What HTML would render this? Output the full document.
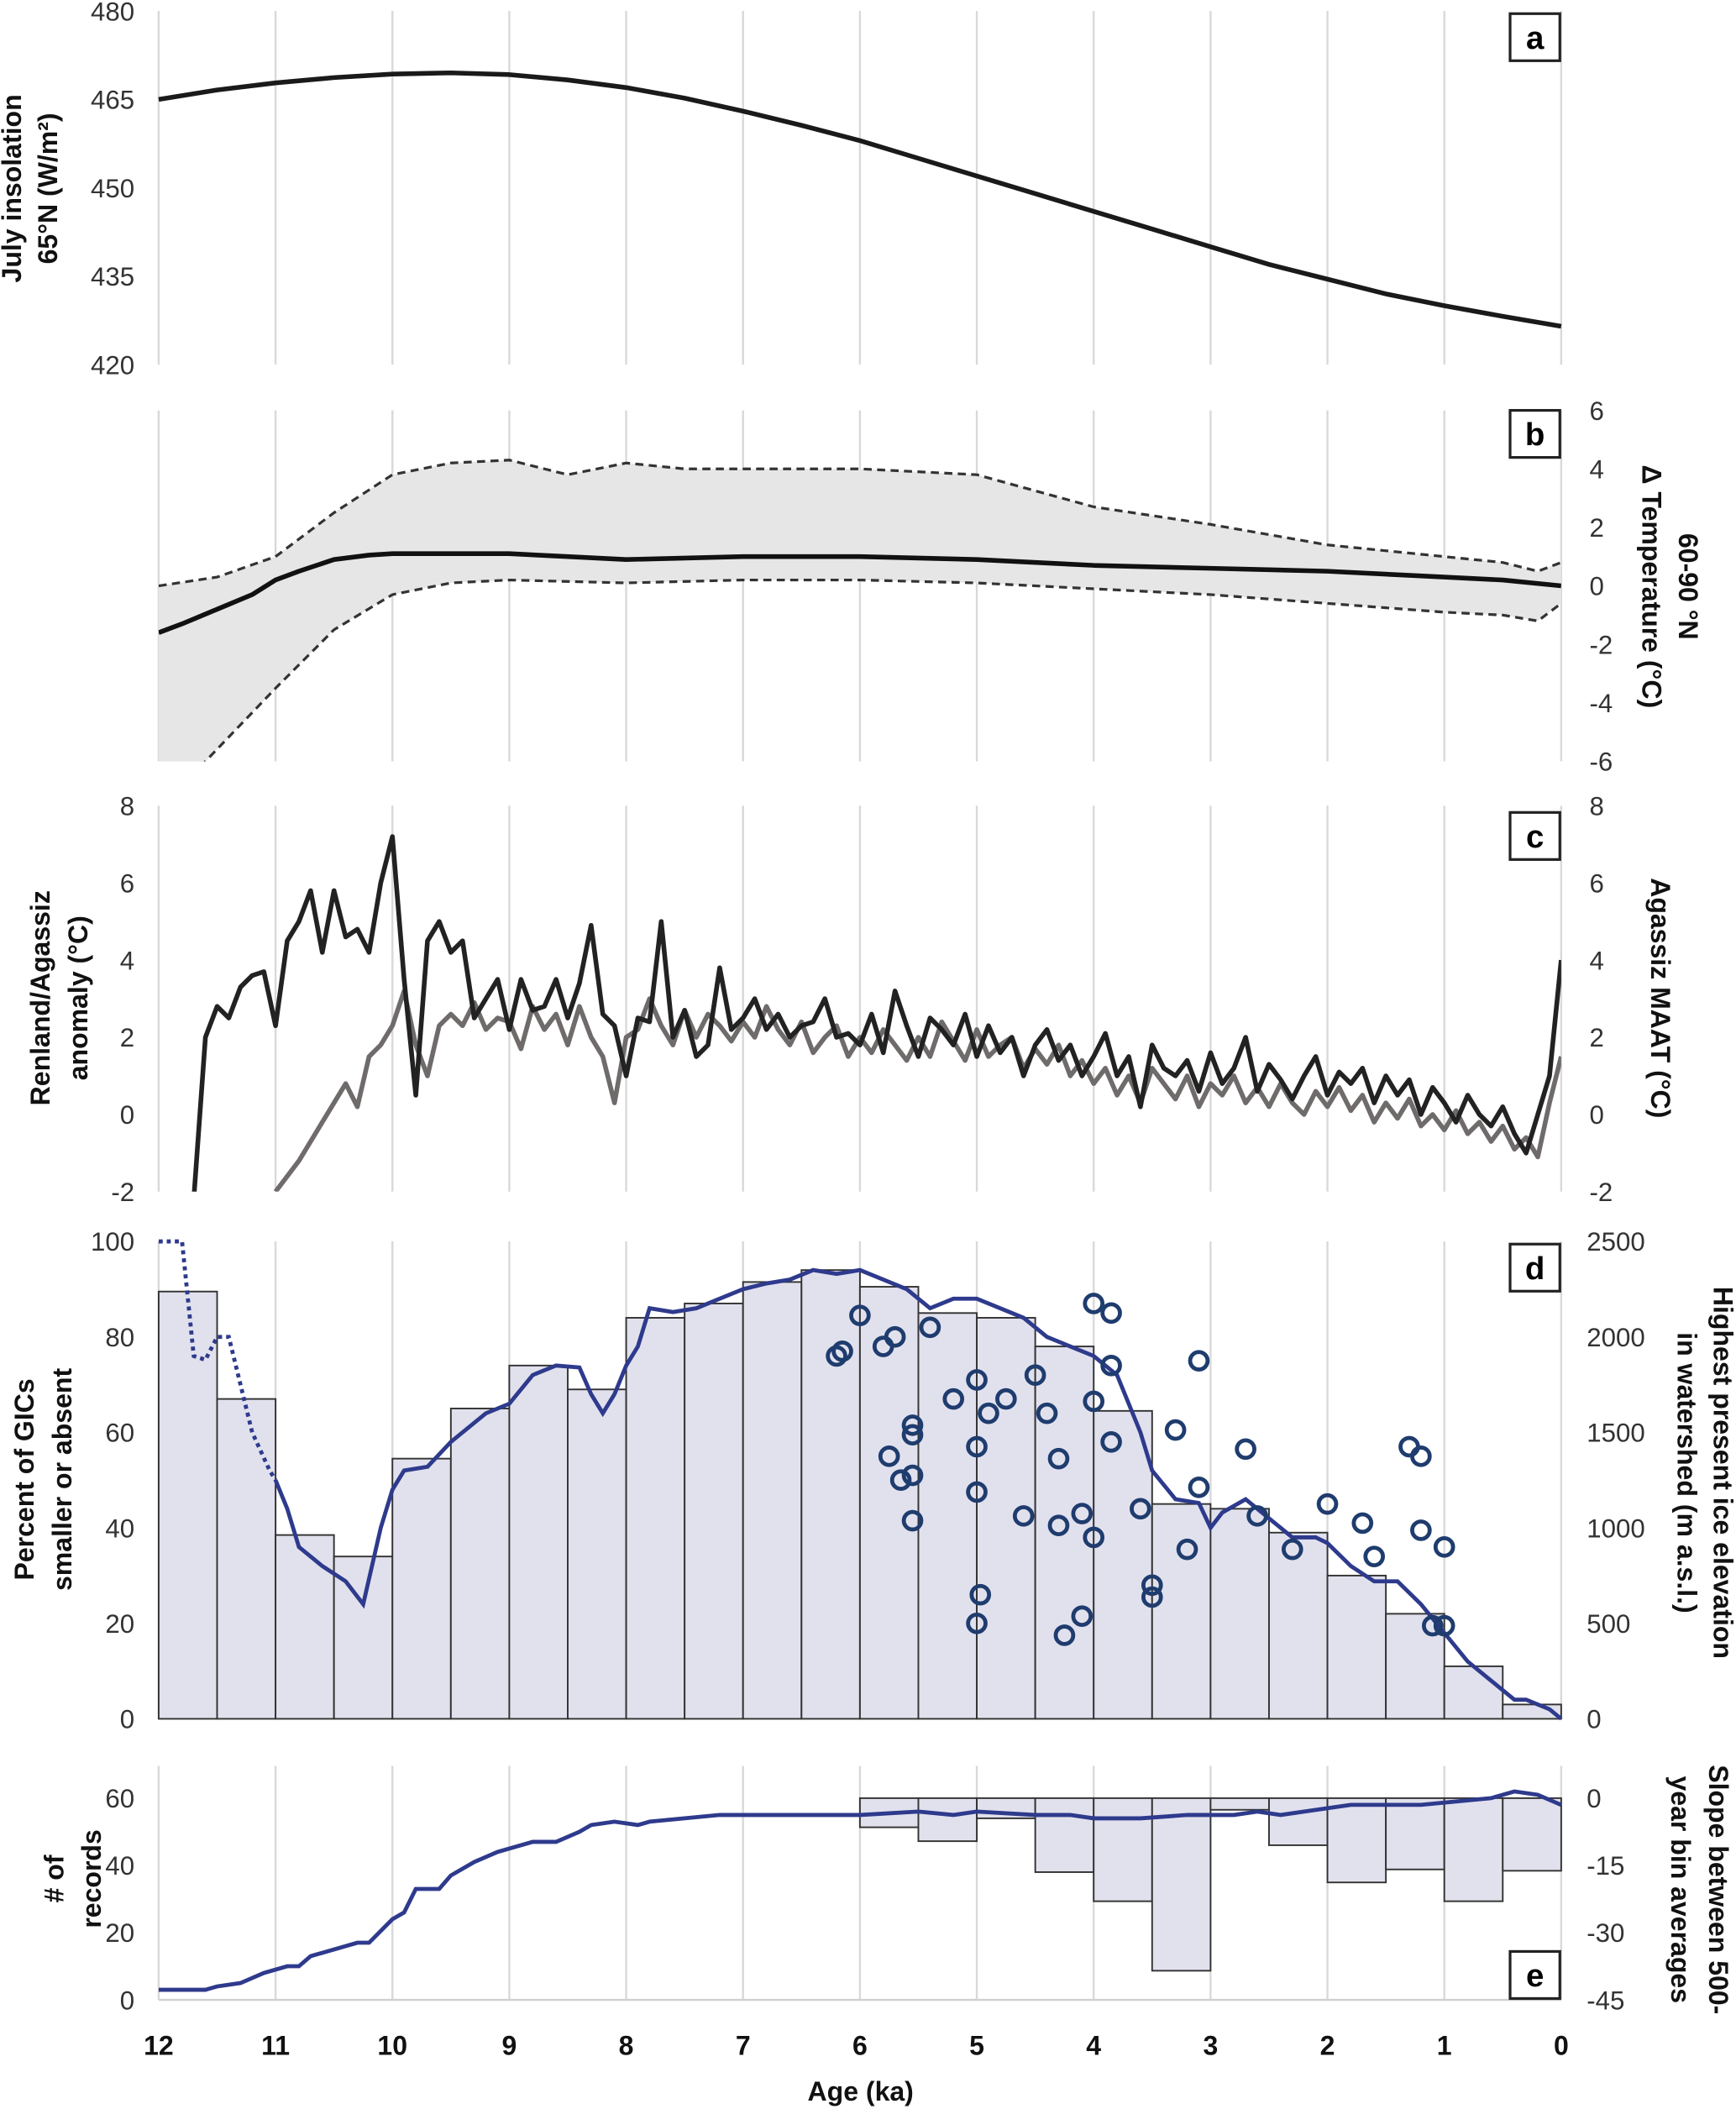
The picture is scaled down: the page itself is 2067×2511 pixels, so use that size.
<!DOCTYPE html>
<html><head><meta charset="utf-8"><style>
html,body{margin:0;padding:0;background:#fff}
svg{display:block}
text{font-family:"Liberation Sans",sans-serif}
.tk{font-size:19.5px;fill:#333}
.tt{font-size:20px;font-weight:bold;fill:#111}
</style></head><body>
<svg id="chart" width="2067" height="2511" viewBox="0 0 1291 1568" xmlns="http://www.w3.org/2000/svg">
<defs>
<clipPath id="clipB"><rect x="118" y="305" width="1043" height="261"/></clipPath>
<clipPath id="clipC"><rect x="118" y="599" width="1043" height="287"/></clipPath>
</defs>
<g id="root"></g>
</svg>
<script>
// ---------- DATA ----------
const insAges = [12,11.5,11,10.5,10,9.5,9,8.5,8,7.5,7,6.5,6,5.5,5,4.5,4,3.5,3,2.5,2,1.5,1,0.5,0];
const insVals = [465,466.6,467.8,468.7,469.3,469.5,469.2,468.3,467,465.2,463,460.6,458,455,452,449,446,443,440,437,434.5,432,430,428.2,426.5];

const tAges = [12,11.8,11.5,11.2,11,10.8,10.5,10.2,10,9.5,9,8.5,8,7,6,5,4,3,2,1,0.5,0];
const tMean = [-1.6,-1.3,-0.8,-0.3,0.2,0.5,0.9,1.05,1.1,1.1,1.1,1.0,0.9,1.0,1.0,0.9,0.7,0.6,0.5,0.3,0.2,0.0];
const upAges = [12,11.5,11,10.5,10,9.5,9,8.5,8,7.5,7,6,5,4,3,2,1,0.5,0.2,0];
const upVals = [0.0,0.3,1.0,2.5,3.8,4.2,4.3,3.8,4.2,4.0,4.0,4.0,3.8,2.7,2.1,1.4,1.0,0.8,0.5,0.8];
const loAges = [12,11.6,11,10.5,10,9.5,9,8,7,6,5,4,3,2,1,0.5,0.2,0];
const loVals = [-8,-6,-3.5,-1.5,-0.3,0.1,0.2,0.1,0.2,0.2,0.1,-0.1,-0.3,-0.6,-0.9,-1.0,-1.2,-0.6];

const blackStart = 11.7;
const blackVals = [-2.2,2.0,2.8,2.5,3.3,3.6,3.7,2.3,4.5,5.0,5.8,4.2,5.8,4.6,4.8,4.2,6.0,7.2,3.5,0.5,4.5,5.0,4.2,4.5,2.5,3.0,3.5,2.2,3.5,2.7,2.8,3.5,2.5,3.4,4.9,2.6,2.3,1.0,2.5,2.4,5.0,2.0,2.7,1.5,1.8,3.8,2.2,2.5,3.0,2.2,2.6,2.0,2.3,2.4,3.0,2.0,2.1,1.8,2.6,1.6,3.2,2.3,1.5,2.5,2.2,1.8,2.6,1.5,2.3,1.6,2.0,1.0,1.8,2.2,1.4,1.8,1.0,1.5,2.1,1.0,1.5,0.2,1.8,1.2,1.0,1.4,0.6,1.6,0.8,1.2,2.0,0.6,1.3,0.9,0.4,1.0,1.5,0.5,1.1,0.8,1.2,0.3,1.0,0.5,0.9,0.0,0.7,0.3,-0.2,0.5,0.0,-0.3,0.2,-0.5,-1.0,0.0,1.0,4.0];
const grayStart = 11.0;
const grayVals = [-2.0,-1.6,-1.2,-0.7,-0.2,0.3,0.8,0.2,1.5,1.8,2.3,3.2,1.8,1.0,2.3,2.6,2.3,2.9,2.2,2.5,2.4,1.7,2.8,2.2,2.6,1.8,2.8,2.0,1.5,0.3,2.0,2.2,3.0,2.3,1.8,2.7,2.0,2.6,2.3,1.9,2.4,2.0,2.8,2.2,1.8,2.4,1.6,2.0,2.3,1.5,2.0,1.6,2.2,1.8,1.4,2.0,1.5,2.4,1.9,1.4,2.2,1.5,1.8,2.0,1.2,1.7,1.3,1.8,1.0,1.4,0.8,1.2,0.5,1.0,0.3,1.2,0.8,0.4,1.0,0.2,0.8,0.5,1.0,0.3,0.7,0.2,0.8,0.3,0.0,0.6,0.2,0.7,0.1,0.5,-0.2,0.3,-0.1,0.4,-0.3,0.0,-0.4,0.1,-0.5,-0.2,-0.7,-0.3,-0.9,-0.6,-1.1,0.3,1.5];
const series10Step = 0.1;

const gicBins = [89.5,67,38.5,34,54.5,65,74,69,84,87,91.5,94,90.5,85,84,78,64.5,45,44,39,30,22,11,3];
const elevDotAges = [12,11.8,11.7,11.6,11.5,11.4,11.3,11.2,11.05,11.0];
const elevDotVals = [2500,2500,1900,1880,2000,2000,1750,1500,1300,1250];
const elevAges = [11.0,10.9,10.8,10.6,10.4,10.25,10.1,10.0,9.9,9.7,9.5,9.2,9.0,8.8,8.6,8.4,8.3,8.2,8.1,8.0,7.9,7.8,7.6,7.4,7.2,7.0,6.8,6.6,6.4,6.2,6.0,5.8,5.6,5.4,5.2,5.0,4.8,4.6,4.4,4.2,4.0,3.8,3.6,3.5,3.3,3.1,3.0,2.9,2.7,2.5,2.3,2.1,2.0,1.8,1.6,1.4,1.2,1.0,0.8,0.6,0.4,0.3,0.1,0];
const elevVals = [1250,1100,900,800,720,600,1000,1200,1300,1320,1450,1600,1650,1800,1850,1840,1700,1600,1700,1850,1950,2150,2130,2150,2200,2250,2280,2300,2350,2330,2350,2300,2250,2150,2200,2200,2150,2100,2000,1950,1900,1800,1500,1300,1150,1130,1000,1080,1150,1050,950,950,920,800,720,720,600,450,300,200,100,100,50,0];
const circAges = [6.2,6.15,6.0,5.8,5.7,5.55,5.55,5.55,5.65,5.55,5.75,5.4,5.2,5.0,4.9,5.0,5.0,4.97,5.0,4.75,4.6,4.5,4.4,4.3,4.3,4.1,4.1,4.25,4.0,3.85,3.85,4.0,4.0,3.85,3.6,3.5,3.5,3.3,3.2,3.1,3.1,2.7,2.6,2.3,2.0,1.7,1.6,1.3,1.2,1.2,1.0,1.1,1.0];
const circPct = [76,77,84.5,78,80,61.5,59.5,51,50,41.5,55,82,67,71,64,57,47.5,26,20,67,42.5,72,64,54.5,40.5,43,21.5,17.5,87,85,74,66.5,38,58,44,28,25.5,60.5,35.5,75,48.5,56.5,42.5,35.5,45,41,34,57,55,39.5,36,19.5,19.5];

const slopeBins = [-6.5,-9.6,-4.5,-16.5,-23,-38.5,-2.6,-10.5,-18.8,-15.9,-23,-16.2];
const recAges = [12,11.6,11.5,11.3,11.1,10.9,10.8,10.7,10.5,10.3,10.2,10.0,9.9,9.8,9.6,9.5,9.3,9.1,8.9,8.8,8.6,8.4,8.3,8.1,7.9,7.8,7.5,7.2,6.9,6.5,6.0,5.5,5.2,5.0,4.5,4.2,4.0,3.6,3.2,2.8,2.6,2.4,2.0,1.8,1.2,0.9,0.6,0.4,0.2,0];
const recVals = [3,3,4,5,8,10,10,13,15,17,17,24,26,33,33,37,41,44,46,47,47,50,52,53,52,53,54,55,55,55,55,56,55,56,55,55,54,54,55,55,56,55,57,58,58,59,60,62,61,58];

const xTicks = [12,11,10,9,8,7,6,5,4,3,2,1,0];
const insTicks = [420,435,450,465,480];
const tTicks = [-6,-4,-2,0,2,4,6];
const cTicks = [-2,0,2,4,6,8];
const pctTicks = [0,20,40,60,80,100];
const elevTicks = [0,500,1000,1500,2000,2500];
const recTicks = [0,20,40,60];
const slopeTicks = [0,-15,-30,-45];

// ---------- SCALES ----------
const X = a => 118 + (12 - a) * (1043 / 12);
const Ya = v => 271 - (v - 420) / 60 * 263;
const Yb = v => 435.5 - v * (261 / 12);
const Yc = v => 886 - (v + 2) * 28.7;
const Yd = p => 1278 - p * 3.55;
const Ydm = m => 1278 - m * 0.142;
const Ye = n => 1487 - n * 2.5;
const Yes = s => 1337 - s * (150 / 45);

const NS = "http://www.w3.org/2000/svg";
const root = document.getElementById('root');
function mk(tag, attrs, parent) {
  const e = document.createElementNS(NS, tag);
  for (const k in attrs) e.setAttribute(k, attrs[k]);
  (parent || root).appendChild(e);
  return e;
}
function pathFrom(ages, vals, ys) {
  return ages.map((a, i) => (i ? 'L' : 'M') + X(a).toFixed(2) + ',' + ys(vals[i]).toFixed(2)).join('');
}
function stepAges(start, n) { const r = []; for (let i = 0; i < n; i++) r.push(start - i * series10Step); return r; }

// gridlines
const panels = [[8, 271], [305, 566], [599, 886], [923, 1278], [1313, 1487]];
panels.forEach(p => {
  xTicks.forEach(t => {
    const g = mk('line', {x1: X(t), x2: X(t), y1: p[0], y2: p[1], stroke: '#d9d9d9', 'stroke-width': 1.5});
    
    
  });
});

// ---- Panel a ----
let e = mk('path', {d: pathFrom(insAges, insVals, Ya), fill: 'none', stroke: '#1a1a1a', 'stroke-width': 3.5, 'stroke-linejoin': 'round'});


insTicks.forEach(t => {
  const tx = mk('text', {x: 100, y: Ya(t) + 7, 'text-anchor': 'end', class: 'tk'}); tx.textContent = t;
  
  
});

// ---- Panel b ----
const gb = mk('g', {'clip-path': 'url(#clipB)'});
const loRev = loAges.slice().reverse(), loValsRev = loVals.slice().reverse();
let bandD = pathFrom(upAges, upVals, Yb) + loRev.map((a, i) => 'L' + X(a) + ',' + Yb(loValsRev[i])).join('') + 'Z';
e = mk('path', {d: bandD, fill: '#e6e6e6', stroke: 'none'}, gb);


e = mk('path', {d: pathFrom(upAges, upVals, Yb), fill: 'none', stroke: '#333', 'stroke-width': 2, 'stroke-dasharray': '6,4'}, gb);


e = mk('path', {d: pathFrom(loAges, loVals, Yb), fill: 'none', stroke: '#333', 'stroke-width': 2, 'stroke-dasharray': '6,4'}, gb);


e = mk('path', {d: pathFrom(tAges, tMean, Yb), fill: 'none', stroke: '#111', 'stroke-width': 3.5, 'stroke-linejoin': 'round'}, gb);


tTicks.forEach(t => {
  const tx = mk('text', {x: 1182, y: Yb(t) + 7, class: 'tk'}); tx.textContent = t;
  
  
});

// ---- Panel c ----
const gc = mk('g', {'clip-path': 'url(#clipC)'});
e = mk('path', {d: pathFrom(stepAges(grayStart, grayVals.length), grayVals, Yc), fill: 'none', stroke: '#6f6b6b', 'stroke-width': 3.5, 'stroke-linejoin': 'round'}, gc);


e = mk('path', {d: pathFrom(stepAges(blackStart, blackVals.length), blackVals, Yc), fill: 'none', stroke: '#222', 'stroke-width': 3.5, 'stroke-linejoin': 'round'}, gc);


cTicks.forEach(t => {
  let tx = mk('text', {x: 100, y: Yc(t) + 7, 'text-anchor': 'end', class: 'tk'}); tx.textContent = t;
  
  
  tx = mk('text', {x: 1182, y: Yc(t) + 7, class: 'tk'}); tx.textContent = t;
  
  
});

// ---- Panel d ----
gicBins.forEach((v, i) => {
  const a0 = 12 - i * 0.5, a1 = a0 - 0.5;
  const r = mk('rect', {x: X(a0), y: Yd(v), width: X(a1) - X(a0), height: Yd(0) - Yd(v), fill: '#e1e1ee', stroke: '#333', 'stroke-width': 1.2});
  
  
});
e = mk('path', {d: pathFrom(elevDotAges, elevDotVals, Ydm), fill: 'none', stroke: '#2e3a8c', 'stroke-width': 3, 'stroke-dasharray': '3,3'});


e = mk('path', {d: pathFrom(elevAges, elevVals, Ydm), fill: 'none', stroke: '#2e3a8c', 'stroke-width': 3});


circAges.forEach((a, i) => {
  const c = mk('circle', {cx: X(a), cy: Yd(circPct[i]), r: 6.5, fill: 'none', stroke: '#1f3c6e', 'stroke-width': 3});
  
  
});
pctTicks.forEach(t => {
  const tx = mk('text', {x: 100, y: Yd(t) + 7, 'text-anchor': 'end', class: 'tk'}); tx.textContent = t;
  
  
});
elevTicks.forEach(t => {
  const tx = mk('text', {x: 1180, y: Ydm(t) + 7, class: 'tk'}); tx.textContent = t;
  
  
});

// ---- Panel e ----
slopeBins.forEach((v, i) => {
  const a0 = 6 - i * 0.5, a1 = a0 - 0.5;
  const r = mk('rect', {x: X(a0), y: Yes(0), width: X(a1) - X(a0), height: Yes(v) - Yes(0), fill: '#e1e1ee', stroke: '#333', 'stroke-width': 1.2});
  
  
});
e = mk('line', {x1: 118, x2: 1161, y1: 1487, y2: 1487, stroke: '#d0d0d0', 'stroke-width': 1.5});


e = mk('path', {d: pathFrom(recAges, recVals, Ye), fill: 'none', stroke: '#2e3a8c', 'stroke-width': 3});


recTicks.forEach(t => {
  const tx = mk('text', {x: 100, y: Ye(t) + 7, 'text-anchor': 'end', class: 'tk'}); tx.textContent = t;
  
  
});
slopeTicks.forEach(t => {
  const tx = mk('text', {x: 1180, y: Yes(t) + 7, class: 'tk'}); tx.textContent = t;
  
  
});

// x ticks
xTicks.forEach(t => {
  const tx = mk('text', {x: X(t), y: 1528, 'text-anchor': 'middle', class: 'tt'}); tx.textContent = t;
  
  
});
e = mk('text', {x: 640, y: 1562, 'text-anchor': 'middle', class: 'tt'}); e.textContent = 'Age (ka)';



// panel letters
[['a', 10], ['b', 305], ['c', 604], ['d', 925], ['e', 1451]].forEach(p => {
  const r = mk('rect', {x: 1123, y: p[1], width: 37, height: 35, fill: '#fff', stroke: '#222', 'stroke-width': 2});
  
  
  const t = mk('text', {x: 1141.5, y: p[1] + 26, 'text-anchor': 'middle', style: 'font-size:24px;font-weight:bold'}); t.textContent = p[0];
  
  
});

// axis titles
function title(lines, cx, cy, rot, gap, name) {
  const g = mk('g', {transform: `translate(${cx},${cy}) rotate(${rot})`});
  
  
  const n = lines.length;
  lines.forEach((l, i) => {
    const t = mk('text', {x: 0, y: (i - (n - 1) / 2) * gap + 7, 'text-anchor': 'middle', class: 'tt'}, g);
    t.textContent = l;
  });
}
title(['July insolation', '65°N (W/m²)'], 22, 140, -90, 27, 'y-axis-title-insolation');
title(['60-90 °N', 'Δ Temperature (°C)'], 1242, 436, 90, 27, 'y-axis-title-temperature');
title(['Renland/Agassiz', 'anomaly (°C)'], 44, 742, -90, 28, 'y-axis-title-anomaly');
title(['Agassiz MAAT (°C)'], 1235, 742, 90, 27, 'y-axis-title-maat');
title(['Percent of GICs', 'smaller or absent'], 32, 1100, -90, 28, 'y-axis-title-gic');
title(['Highest present ice elevation', 'in watershed (m a.s.l.)'], 1268, 1095, 90, 27, 'y-axis-title-elevation');
title(['# of', 'records'], 54, 1397, -90, 28, 'y-axis-title-records');
title(['Slope between 500-', 'year bin averages'], 1264, 1405, 90, 28, 'y-axis-title-slope');
</script>
</body></html>
